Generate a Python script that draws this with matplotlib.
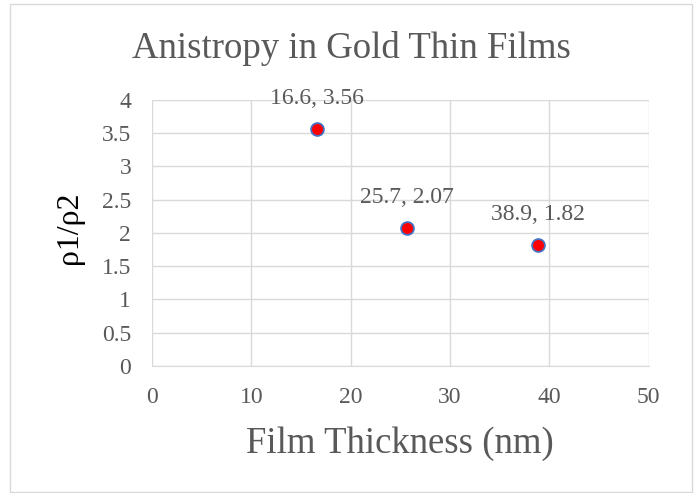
import matplotlib

matplotlib.use("Agg")
import matplotlib.pyplot as plt
import matplotlib.patches as mpatches

# data
thickness = [16.6, 25.7, 38.9]
ratio = [3.56, 2.07, 1.82]
x_ticks = [0, 10, 20, 30, 40, 50]
y_ticks = [0, 0.5, 1, 1.5, 2, 2.5, 3, 3.5, 4]

TEXT = "#595959"
GRID = "#D9D9D9"
SERIF = "Liberation Serif"
W, H = 699, 493

fig = plt.figure(figsize=(W / 100, H / 100), dpi=100)
ax = fig.add_axes([152 / W, 1 - 366 / H, 496.5 / W, 266.4 / H])

# chart-area border
fig.patches.append(mpatches.Rectangle(
    (10 / W, 1 - 492 / H), 682 / W, 488 / H,
    transform=fig.transFigure, fill=False, edgecolor=GRID, linewidth=1.0))

ax.scatter(thickness, ratio, s=85, color="#FF0000", edgecolor="#4472C4",
           linewidth=1.3, zorder=3)
for x, y in zip(thickness, ratio):
    ax.annotate(f"{x}, {y}", (x, y), xytext=(0, 22), textcoords="offset points",
                ha="center", va="center", fontsize=17, family=SERIF, color=TEXT)

ax.set_xlim(0, 50)
ax.set_ylim(0, 4)
ax.set_xticks(x_ticks)
ax.set_yticks(y_ticks)
ax.set_xticklabels([str(t) for t in x_ticks])
ax.set_yticklabels([f"{t:g}" for t in y_ticks])
ax.grid(True, color=GRID, linewidth=1.0)
ax.set_axisbelow(True)
for side in ["top", "right", "left"]:
    ax.spines[side].set_visible(False)
ax.spines["bottom"].set_color(GRID)
ax.tick_params(length=0, labelsize=17, colors=TEXT, pad=15)
for lab in ax.get_xticklabels() + ax.get_yticklabels():
    lab.set_family(SERIF)

fig.text(351 / W, 1 - 58 / H, "Anistropy in Gold Thin Films", ha="center",
         va="baseline", fontsize=26.5, family=SERIF, color=TEXT)
fig.text(400 / W, 1 - 453 / H, "Film Thickness (nm)", ha="center",
         va="baseline", fontsize=26.5, family=SERIF, color=TEXT)
fig.text(69 / W, 1 - 228 / H, "ρ1/ρ2", ha="center", va="center",
         rotation=90, fontsize=23, family=SERIF, color="black")

fig.savefig("out.png", dpi=100)
